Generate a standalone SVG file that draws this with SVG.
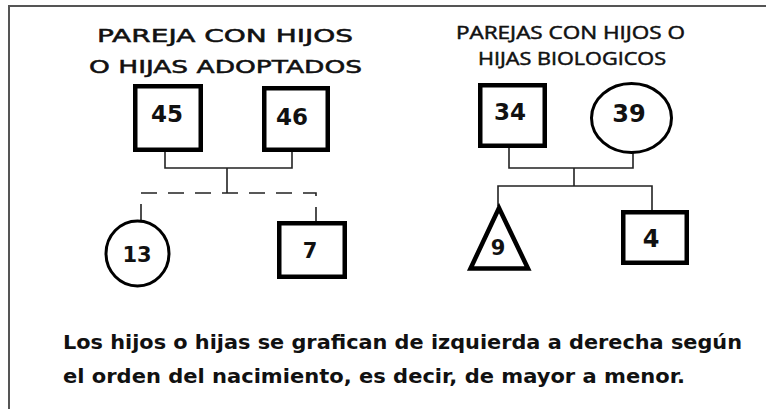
<svg xmlns="http://www.w3.org/2000/svg" width="766" height="409" viewBox="0 0 766 409">
<style>
.frame{stroke:#555;stroke-width:2;fill:none}
.box{fill:#fff;stroke:#000;stroke-width:4.5}
.ring{fill:#fff;stroke:#000;stroke-width:3}
.link{fill:none;stroke:#222;stroke-width:1.6}
.dash{fill:none;stroke:#222;stroke-width:1.6;stroke-dasharray:16 11}
.num{font-family:"DejaVu Sans","Liberation Sans",sans-serif;font-weight:bold;fill:#111;text-anchor:middle}
.t1{font-family:"DejaVu Sans","Liberation Sans",sans-serif;font-size:18px;fill:#111;stroke:#111;stroke-width:0.5}
.t2{font-family:"Open Sans","DejaVu Sans",sans-serif;font-size:18px;fill:#111;stroke:#111;stroke-width:0.5}
.t3{font-family:"DejaVu Sans","Liberation Sans",sans-serif;font-size:19px;font-weight:bold;fill:#111}
</style>
<rect width="766" height="409" fill="#fff"/>
<g id="frame">
<path class="frame" d="M9 409 V6 H766"/>
</g>
<g id="title-adoptados">
<text class="t1" x="97" y="42" textLength="256" lengthAdjust="spacingAndGlyphs">PAREJA CON HIJOS</text>
<text class="t1" x="89" y="73" textLength="273" lengthAdjust="spacingAndGlyphs">O HIJAS ADOPTADOS</text>
</g>
<g id="title-biologicos">
<text class="t2" x="456" y="39" textLength="229" lengthAdjust="spacingAndGlyphs">PAREJAS CON HIJOS O</text>
<text class="t2" x="478" y="65" textLength="188" lengthAdjust="spacingAndGlyphs">HIJAS BIOLOGICOS</text>
</g>
<g id="connectors">
<path class="link" d="M165 152 V168 H292 V152 M227 168 V193"/>
<path class="dash" d="M141 220 V193 H316 V221"/>
<path class="link" d="M509 148 V168 H633 V152 M574 168 V186 M498 206 V186 H652 V210"/>
</g>
<g id="node-45">
<rect class="box" x="135.25" y="86.25" width="65.5" height="63.5"/>
<text class="num" x="167" y="122" font-size="23">45</text>
</g>
<g id="node-46">
<rect class="box" x="264.25" y="88.25" width="63.5" height="61.5"/>
<text class="num" x="292" y="125" font-size="23">46</text>
</g>
<g id="node-13">
<ellipse class="ring" cx="137.5" cy="253.5" rx="31.5" ry="32.5"/>
<text class="num" x="137" y="262" font-size="21">13</text>
</g>
<g id="node-7">
<rect class="box" x="279.25" y="223.25" width="65.5" height="53.5"/>
<text class="num" x="310" y="258" font-size="21">7</text>
</g>
<g id="node-34">
<rect class="box" x="480.25" y="85.25" width="64.5" height="60.5"/>
<text class="num" x="510" y="120" font-size="23">34</text>
</g>
<g id="node-39">
<ellipse class="ring" cx="631.5" cy="118" rx="40" ry="34.5"/>
<text class="num" x="629" y="122" font-size="24">39</text>
</g>
<g id="node-9">
<polygon class="box" points="499,208 470.5,268.5 528,268.5" stroke-linejoin="miter"/>
<text class="num" x="498" y="255" font-size="21">9</text>
</g>
<g id="node-4">
<rect class="box" x="623.25" y="212.25" width="63.5" height="50.5"/>
<text class="num" x="651" y="247" font-size="24">4</text>
</g>
<g id="caption">
<text class="t3" x="63" y="349" textLength="679" lengthAdjust="spacingAndGlyphs">Los hijos o hijas se grafican de izquierda a derecha según</text>
<text class="t3" x="63" y="383" textLength="622" lengthAdjust="spacingAndGlyphs">el orden del nacimiento, es decir, de mayor a menor.</text>
</g>
</svg>
